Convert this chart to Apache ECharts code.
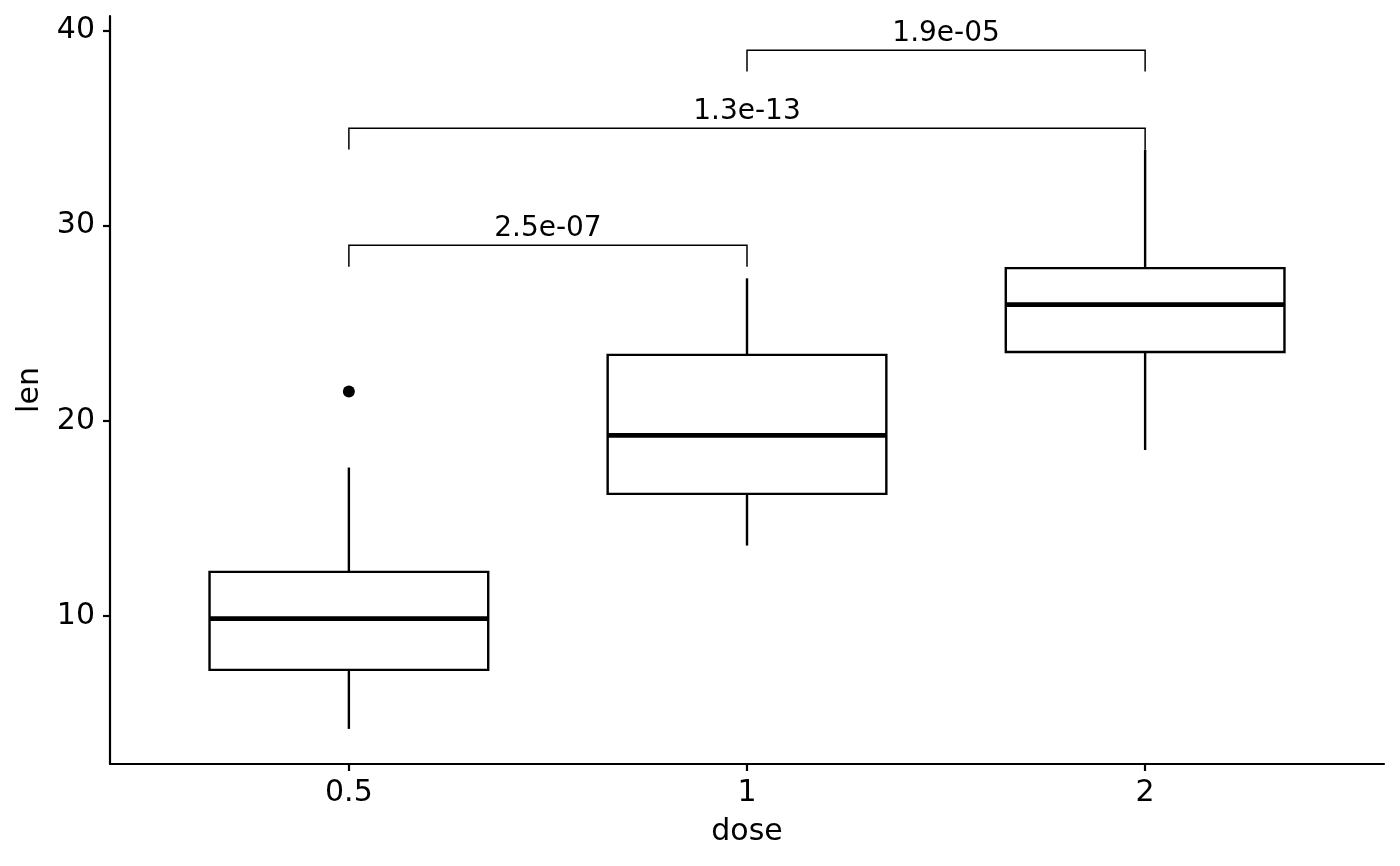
<!DOCTYPE html>
<html>
<head>
<meta charset="utf-8">
<title>len by dose</title>
<script src="https://cdn.jsdelivr.net/npm/echarts@6/dist/echarts.min.js"></script>
<style>
  html, body { margin: 0; padding: 0; background: #ffffff; }
  #chart { width: 1400px; height: 866px; }
</style>
</head>
<body>
<div id="chart"></div>
<script>
// ToothGrowth: len by dose, box statistics per dose group
const doses = ["0.5", "1", "2"];
const lowerWhisker = [4.2, 13.6, 18.5];
const lowerQuartile = [7.225, 16.25, 23.525];
const medians = [9.85, 19.25, 25.95];
const upperQuartile = [12.25, 23.375, 27.825];
const upperWhisker = [17.6, 27.3, 33.9];
const outliers = [[0, 21.5]];

// pairwise comparisons drawn as brackets
const comparisonPairs = [[0, 1], [0, 2], [1, 2]];
const comparisonLevels = [29, 35, 39];
const comparisonLabels = ["2.5e-07", "1.3e-13", "1.9e-05"];
const tipLength = 1.1;

const yTicks = [10, 20, 30, 40];
const FONT = "DejaVu Sans";
const BOX_HALF_WIDTH = 0.35;

const boxData = doses.map((dose, i) => [
  i + 1,
  lowerWhisker[i],
  lowerQuartile[i],
  medians[i],
  upperQuartile[i],
  upperWhisker[i],
]);

const bracketData = comparisonPairs.map((pair, i) => [
  pair[0] + 1,
  pair[1] + 1,
  comparisonLevels[i],
  i,
]);

function renderBox(params, api) {
  const x = api.value(0);
  const low = api.value(1);
  const q1 = api.value(2);
  const med = api.value(3);
  const q3 = api.value(4);
  const high = api.value(5);

  const topLeft = api.coord([x - BOX_HALF_WIDTH, q3]);
  const bottomRight = api.coord([x + BOX_HALF_WIDTH, q1]);
  const medLeft = api.coord([x - BOX_HALF_WIDTH, med]);
  const medRight = api.coord([x + BOX_HALF_WIDTH, med]);
  const highPt = api.coord([x, high]);
  const q3Pt = api.coord([x, q3]);
  const lowPt = api.coord([x, low]);
  const q1Pt = api.coord([x, q1]);

  const line = { stroke: "#000", lineWidth: 2.4 };
  return {
    type: "group",
    children: [
      { type: "line", shape: { x1: highPt[0], y1: highPt[1], x2: q3Pt[0], y2: q3Pt[1] }, style: line },
      { type: "line", shape: { x1: lowPt[0], y1: lowPt[1], x2: q1Pt[0], y2: q1Pt[1] }, style: line },
      {
        type: "rect",
        shape: {
          x: topLeft[0],
          y: topLeft[1],
          width: bottomRight[0] - topLeft[0],
          height: bottomRight[1] - topLeft[1],
        },
        style: { fill: "#fff", stroke: "#000", lineWidth: 2.4 },
      },
      {
        type: "line",
        shape: { x1: medLeft[0], y1: medLeft[1], x2: medRight[0], y2: medRight[1] },
        style: { stroke: "#000", lineWidth: 4.8 },
      },
    ],
  };
}

function renderBracket(params, api) {
  const x1 = api.value(0);
  const x2 = api.value(1);
  const level = api.value(2);
  const labelIndex = api.value(3);

  const a = api.coord([x1, level - tipLength]);
  const b = api.coord([x1, level]);
  const c = api.coord([x2, level]);
  const d = api.coord([x2, level - tipLength]);

  return {
    type: "group",
    children: [
      {
        type: "polyline",
        shape: { points: [a, b, c, d] },
        style: { stroke: "#000", lineWidth: 1.5, fill: null },
      },
      {
        type: "text",
        style: {
          text: comparisonLabels[labelIndex],
          x: (b[0] + c[0]) / 2,
          y: b[1] - 2,
          textAlign: "center",
          textVerticalAlign: "bottom",
          font: `28px "${FONT}"`,
          fill: "#000",
        },
      },
    ],
  };
}

const chart = echarts.init(document.getElementById("chart"), null, { renderer: "canvas" });

chart.setOption({
  backgroundColor: "#ffffff",
  animation: false,
  textStyle: { fontFamily: FONT, color: "#000" },
  grid: { left: 110, right: 16, top: 16, bottom: 102, containLabel: false },
  xAxis: {
    type: "value",
    min: 0.4,
    max: 3.6,
    name: "dose",
    nameLocation: "middle",
    nameGap: 53,
    nameTextStyle: { fontFamily: FONT, fontSize: 30, color: "#000" },
    axisLine: { show: true, lineStyle: { color: "#000", width: 2.2 } },
    axisTick: {
      show: true,
      length: 7,
      lineStyle: { color: "#000", width: 2.2 },
      customValues: doses.map((d, i) => i + 1),
    },
    axisLabel: {
      fontFamily: FONT,
      fontSize: 30,
      color: "#000",
      margin: 14,
      customValues: doses.map((d, i) => i + 1),
      formatter: (v) => doses[Math.round(v) - 1] ?? "",
    },
    splitLine: { show: false },
  },
  yAxis: {
    type: "value",
    min: 2.4,
    max: 40.75,
    name: "len",
    nameLocation: "middle",
    nameGap: 65,
    nameTextStyle: { fontFamily: FONT, fontSize: 30, color: "#000" },
    axisLine: { show: true, lineStyle: { color: "#000", width: 2.2 } },
    axisTick: {
      show: true,
      length: 7,
      lineStyle: { color: "#000", width: 2.2 },
      customValues: yTicks,
    },
    axisLabel: {
      fontFamily: FONT,
      fontSize: 30,
      color: "#000",
      margin: 15,
      customValues: yTicks,
    },
    splitLine: { show: false },
  },
  series: [
    {
      type: "custom",
      name: "box",
      renderItem: renderBox,
      data: boxData,
      encode: { x: 0, y: [1, 2, 3, 4, 5] },
      z: 2,
    },
    {
      type: "scatter",
      name: "outliers",
      data: outliers.map((o) => [o[0] + 1, o[1]]),
      symbol: "circle",
      symbolSize: 12,
      itemStyle: { color: "#000", opacity: 1 },
      z: 3,
    },
    {
      type: "custom",
      name: "comparisons",
      renderItem: renderBracket,
      data: bracketData,
      encode: { x: [0, 1], y: 2 },
      z: 4,
    },
  ],
});
</script>
</body>
</html>
